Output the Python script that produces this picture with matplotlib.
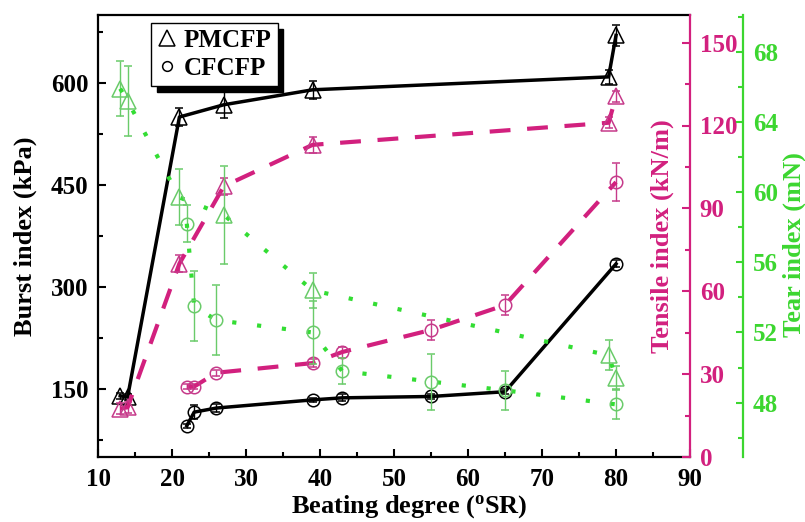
import matplotlib
matplotlib.use('Agg')
from matplotlib import pyplot as plt
from matplotlib.lines import Line2D
from matplotlib.ticker import MultipleLocator

plt.rcParams['font.family'] = 'Liberation Serif'
plt.rcParams['font.weight'] = 'bold'
plt.rcParams['axes.labelweight'] = 'bold'
plt.rcParams['mathtext.fontset'] = 'custom'
plt.rcParams['mathtext.rm'] = 'Liberation Serif:bold'
plt.rcParams['mathtext.bf'] = 'Liberation Serif:bold'

# beating degree (oSR)
pm_deg = [13, 14, 21, 27, 39, 79, 80]
cf_deg = [22, 23, 26, 39, 43, 55, 65, 80]

# burst index (kPa)
pm_burst = [140, 138, 550, 568, 590, 609, 670]
pm_burst_err = [4, 4, 13, 19, 13, 10, 15]
cf_burst = [96, 116, 122, 134, 137, 139, 146, 334]
cf_burst_err = [3, 10, 6, 3, 5, 3, 4, 5]

# tensile index (kN/m)
pm_tensile = [17.5, 18, 70, 98, 113, 121, 130.5]
pm_tensile_err = [2, 2, 3, 3, 3, 2, 2]
cf_tensile = [25.5, 25.5, 30.5, 34, 38, 46, 55, 99.5]
cf_tensile_err = [1, 1, 1, 1.5, 2, 3.5, 3.5, 7]

# tear index (mN)
pm_tear = [65.9, 65.2, 59.7, 58.7, 54.4, 50.7, 49.4]
pm_tear_err = [1.55, 2.0, 1.6, 2.8, 1.0, 0.85, 0.7]
cf_tear = [58.2, 53.5, 52.7, 52.0, 49.8, 49.2, 48.7, 47.9]
cf_tear_err = [1.07, 2.0, 2.0, 1.8, 0.75, 1.6, 1.1, 0.85]

MAG = '#d2207e'
MAG_M = '#c63a8a'
GRN = '#3cd630'
GRN_L = '#33dd33'
GRN_M = '#6acb6a'

fig = plt.figure(figsize=(8.05, 5.22), dpi=100)
ax1 = fig.add_axes([98/805, 65/522, 592/805, 442/522])
ax2 = ax1.twinx()
ax3 = ax1.twinx()

# burst
ax1.errorbar(pm_deg, pm_burst, yerr=pm_burst_err, fmt='-^', color='k', lw=2.5,
             ms=11, mfc='none', mec='k', mew=1.1, ecolor='k', elinewidth=1, capsize=3)
ax1.errorbar(cf_deg, cf_burst, yerr=cf_burst_err, fmt='-o', color='k', lw=2.5,
             ms=9, mfc='none', mec='k', mew=1.1, ecolor='k', elinewidth=1, capsize=3)

# tensile
ax2.errorbar(pm_deg, pm_tensile, yerr=pm_tensile_err, fmt='^', ls=(0, (5, 4)), color=MAG, lw=3,
             ms=11, mfc='none', mec=MAG_M, mew=1.1, ecolor=MAG_M, elinewidth=1, capsize=3)
ax2.errorbar(cf_deg, cf_tensile, yerr=cf_tensile_err, fmt='o', ls=(0, (5, 4)), color=MAG, lw=3,
             ms=9, mfc='none', mec=MAG_M, mew=1.1, ecolor=MAG_M, elinewidth=1, capsize=3)

# tear
ax3.errorbar(pm_deg, pm_tear, yerr=pm_tear_err, fmt='^', ls=(0, (1, 5)), color=GRN_L, lw=3,
             ms=11, mfc='none', mec=GRN_M, mew=1.1, ecolor=GRN_M, elinewidth=1, capsize=3)
ax3.errorbar(cf_deg, cf_tear, yerr=cf_tear_err, fmt='o', ls=(0, (1, 5)), color=GRN_L, lw=3,
             ms=9, mfc='none', mec=GRN_M, mew=1.1, ecolor=GRN_M, elinewidth=1, capsize=3)

ax1.set_xlim(10, 90)
ax1.set_ylim(50, 700)
ax2.set_ylim(0, 160)
ax3.set_ylim(44.9, 70.1)

ax1.xaxis.set_major_locator(MultipleLocator(10))
ax1.xaxis.set_minor_locator(MultipleLocator(5))
ax1.yaxis.set_minor_locator(MultipleLocator(75))
ax1.set_yticks([150, 300, 450, 600])
ax2.yaxis.set_major_locator(MultipleLocator(30))
ax2.yaxis.set_minor_locator(MultipleLocator(15))
ax3.yaxis.set_major_locator(MultipleLocator(4))
ax3.yaxis.set_minor_locator(MultipleLocator(2))

for sp in ['left', 'top', 'bottom']:
    ax1.spines[sp].set_linewidth(1.6)
ax1.spines['right'].set_visible(False)
for sp in ['left', 'top', 'bottom']:
    ax2.spines[sp].set_visible(False)
    ax3.spines[sp].set_visible(False)
ax2.spines['right'].set_color(MAG)
ax2.spines['right'].set_linewidth(1.6)
ax3.spines['right'].set_color(GRN)
ax3.spines['right'].set_linewidth(1.6)
ax3.spines['right'].set_position(('outward', 38.2))

ax1.tick_params(axis='both', which='major', direction='in', length=6, width=1.5, labelsize=18)
ax1.tick_params(axis='both', which='minor', direction='in', length=3.5, width=1.5)
ax1.tick_params(axis='x', which='major', pad=8)
ax1.tick_params(axis='y', which='major', pad=7)
ax1.tick_params(top=False, right=False, which='both')
ax2.tick_params(axis='y', which='major', direction='in', length=6, width=1.5, labelsize=18,
                colors=MAG, pad=7)
ax2.tick_params(axis='y', which='minor', direction='in', length=3.5, width=1.5, colors=MAG)
ax3.tick_params(axis='y', which='major', direction='in', length=5, width=1.5, labelsize=18,
                colors=GRN, pad=7)
ax3.tick_params(axis='y', which='minor', direction='in', length=3.5, width=1.5, colors=GRN)

ax1.set_xlabel(r'Beating degree ($\mathbf{^{o}}$SR)', fontsize=19)
ax1.xaxis.set_label_coords(0.525, -0.082)
ax1.set_ylabel('Burst index (kPa)', fontsize=19)
ax1.yaxis.set_label_coords(-0.103, 0.5)
ax2.set_ylabel('Tensile index (kN/m)', fontsize=19, color=MAG)
ax2.yaxis.set_label_coords(0.934, 0.5)
ax3.set_ylabel('Tear index (mN)', fontsize=19, color=GRN)
ax3.yaxis.set_label_coords(1.157, 0.48)

handles = [Line2D([], [], ls='none', marker='^', ms=11, mfc='none', mec='k', mew=1.1),
           Line2D([], [], ls='none', marker='o', ms=7, mfc='none', mec='k', mew=1.1)]
leg = ax2.legend(handles, ['PMCFP', 'CFCFP'], loc='upper left', bbox_to_anchor=(0.0895, 0.982),
                 borderaxespad=0, fontsize=18, fancybox=False, framealpha=1, edgecolor='k',
                 handlelength=0.8, handletextpad=0.25, borderpad=0.25, labelspacing=0.2,
                 shadow={'ox': 4, 'oy': -4, 'color': 'k', 'alpha': 1})
leg.get_frame().set_linewidth(1)

fig.savefig('out.png', dpi=100)
